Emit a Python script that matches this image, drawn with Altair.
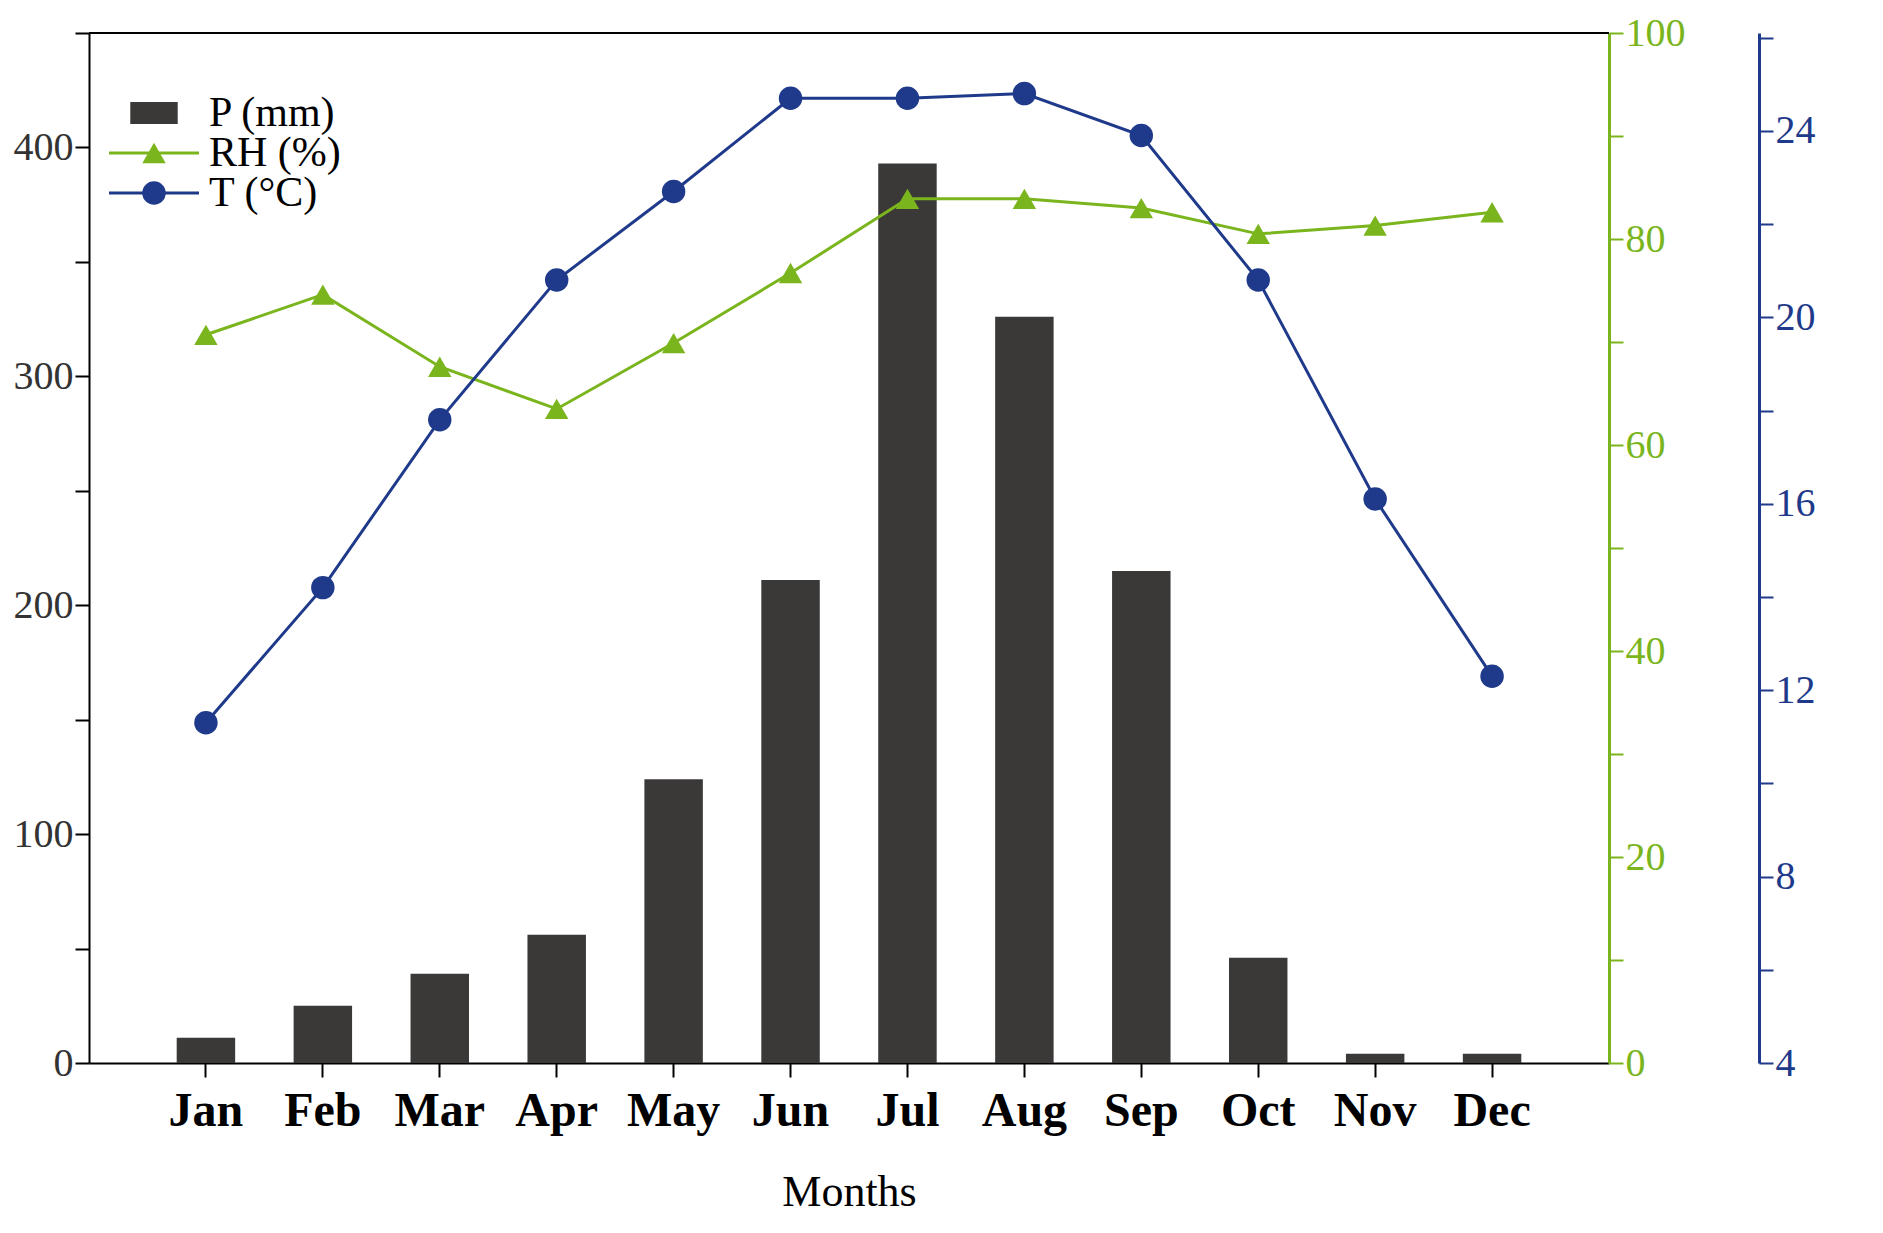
import pandas as pd
import altair as alt

months = ["Jan", "Feb", "Mar", "Apr", "May", "Jun", "Jul", "Aug", "Sep", "Oct", "Nov", "Dec"]
precip = [11, 25, 39, 56, 124, 211, 393, 326, 215, 46, 4, 4]
rh = [70.7, 74.6, 67.6, 63.5, 69.9, 76.7, 83.9, 83.9, 83.0, 80.5, 81.3, 82.6]
temp = [11.3, 14.2, 17.8, 20.8, 22.7, 24.7, 24.7, 24.8, 23.9, 20.8, 16.1, 12.3]

df = pd.DataFrame({"month": months, "P": precip, "RH": rh, "T": temp})

FONT = "Liberation Serif"
GREEN = "#7ab51d"
BLUE = "#1f3a8a"
BAR = "#3b3838"

x = alt.X("month:N", sort=months, title="Months",
          scale=alt.Scale(paddingInner=0.5, paddingOuter=0.75),
          axis=alt.Axis(labelAngle=0, labelFontWeight="bold", labelFontSize=48,
                        titleFontSize=44, titleFontWeight="normal", titlePadding=35,
                        tickSize=14, domainColor="black", tickColor="black",
                        labelColor="black", titleColor="black", labelPadding=10))

bars = alt.Chart(df).mark_bar(color=BAR).encode(
    x=x,
    y=alt.Y("P:Q", title=None, scale=alt.Scale(domain=[0, 450], nice=False),
            axis=alt.Axis(values=list(range(0, 451, 50)), labelExpr="datum.value % 100 == 0 ? datum.label : ''",
                          labelFontSize=40, tickSize=14, labelColor="#333", grid=False,
                          domainColor="black", tickColor="black"))
)

rh_line = alt.Chart(df).mark_line(color=GREEN, strokeWidth=3, point=alt.OverlayMarkDef(
    shape="triangle-up", size=550, color=GREEN, filled=True, opacity=1)).encode(
    x=x,
    y=alt.Y("RH:Q", title=None, scale=alt.Scale(domain=[0, 100], nice=False),
            axis=alt.Axis(orient="right", values=list(range(0, 101, 10)),
                          labelExpr="datum.value % 20 == 0 ? datum.label : ''",
                          labelFontSize=40, tickSize=14, grid=False, domainWidth=3,
                          domainColor=GREEN, tickColor=GREEN, labelColor=GREEN, tickWidth=2))
)

t_line = alt.Chart(df).mark_line(color=BLUE, strokeWidth=3, point=alt.OverlayMarkDef(
    shape="circle", size=550, color=BLUE, filled=True, opacity=1)).encode(
    x=x,
    y=alt.Y("T:Q", title=None, scale=alt.Scale(domain=[4, 26.1], nice=False),
            axis=alt.Axis(orient="right", offset=150, values=list(range(4, 27, 2)),
                          labelExpr="datum.value % 4 == 0 ? datum.label : ''",
                          labelFontSize=40, tickSize=14, grid=False, domainWidth=3,
                          domainColor=BLUE, tickColor=BLUE, labelColor=BLUE, tickWidth=2))
)

top_line = alt.Chart(df.head(1)).mark_rule(color="black", strokeWidth=2).encode(
    x=alt.value(0), x2=alt.value(1520), y=alt.value(0))

# legend
leg = pd.DataFrame({"label": ["P (mm)", "RH (%)", "T (°C)"], "row": [0, 1, 2]})
leg_y = alt.Y("row:O", axis=None, scale=alt.Scale(range=[60, 180]))
leg_text = alt.Chart(leg).mark_text(align="left", baseline="middle", fontSize=42, font=FONT, color="black").encode(
    x=alt.value(120), y=leg_y, text="label:N")
leg_box = alt.Chart(leg[leg.row == 0]).mark_point(size=1000, color=BAR, opacity=1, filled=True,
                                                  shape="M-1.5,-0.7H1.5V0.7H-1.5Z").encode(
    x=alt.value(65), y=leg_y)
leg_rh_l = alt.Chart(leg[leg.row == 1]).mark_rule(color=GREEN, strokeWidth=3).encode(
    x=alt.value(20), x2=alt.value(110), y=leg_y)
leg_rh_p = alt.Chart(leg[leg.row == 1]).mark_point(shape="triangle-up", size=550, color=GREEN, filled=True, opacity=1).encode(
    x=alt.value(65), y=leg_y)
leg_t_l = alt.Chart(leg[leg.row == 2]).mark_rule(color=BLUE, strokeWidth=3).encode(
    x=alt.value(20), x2=alt.value(110), y=leg_y)
leg_t_p = alt.Chart(leg[leg.row == 2]).mark_point(shape="circle", size=550, color=BLUE, filled=True, opacity=1).encode(
    x=alt.value(65), y=leg_y)
legend = alt.layer(leg_box, leg_rh_l, leg_rh_p, leg_t_l, leg_t_p, leg_text)

chart = alt.layer(bars, rh_line, t_line, top_line, legend).resolve_scale(y="independent").properties(
    width=1520, height=1030
).configure_view(stroke=None).configure(font=FONT).configure_axis(
    labelFont=FONT, titleFont=FONT, domainWidth=2, tickWidth=2
)

chart.save("out.html", embed_options={"renderer": "svg", "actions": False})
